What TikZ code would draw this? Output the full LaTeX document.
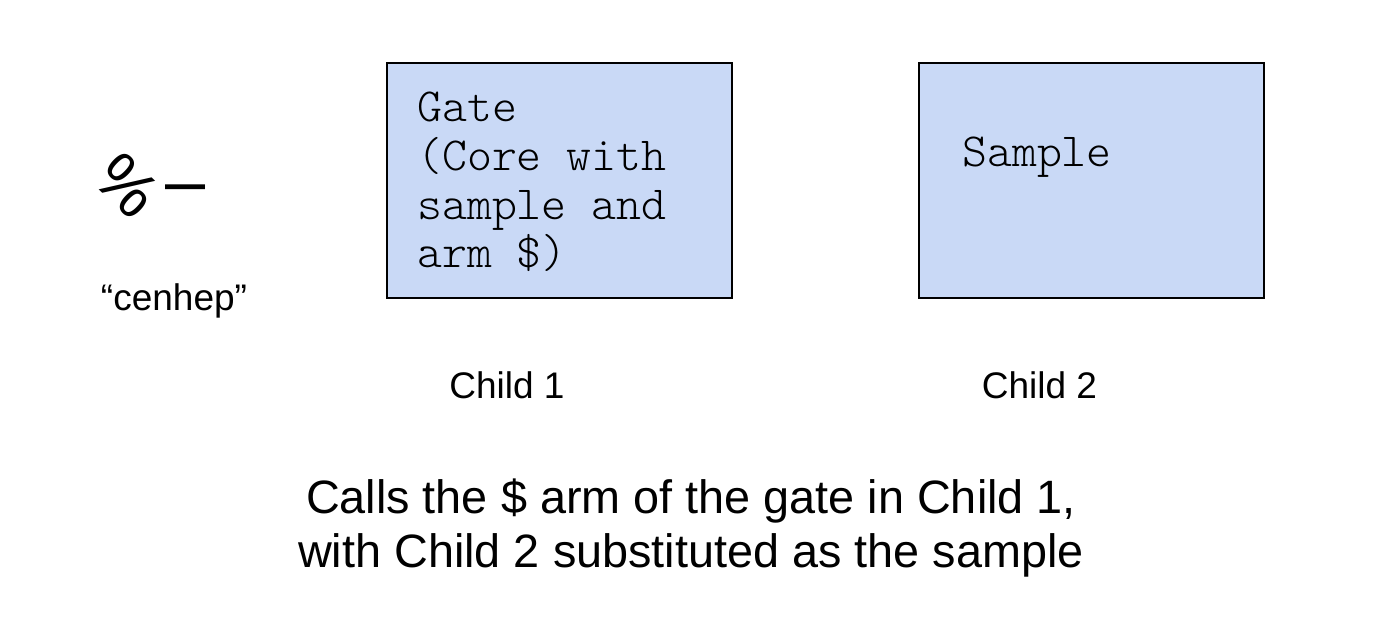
\documentclass[tikz,border=0pt]{standalone}
\usepackage{fontspec}
\setmainfont{Liberation Sans}
\newfontfamily\monofont{Latin Modern Mono Light}
\definecolor{boxfill}{HTML}{C9D9F6}
\begin{document}
\begin{tikzpicture}[x=1pt,y=-1pt,
  childbox/.style={draw=black,line width=1.5pt,fill=boxfill,minimum width=345pt,minimum height=235pt,inner sep=0pt},
  monotext/.style={font=\monofont\fontsize{47.5}{48.7}\selectfont,align=left,inner sep=0pt},
  labeltext/.style={font=\fontsize{37}{44}\selectfont,inner sep=0pt},
  bigtext/.style={font=\fontsize{46.8}{54}\selectfont,align=center,inner sep=0pt}]
\useasboundingbox (0,0) rectangle (1384,636);
\node[childbox] (box1) at (559.5,180.5) {};
\node[childbox] (box2) at (1091.5,180.5) {};
\node[monotext,anchor=base west] (gate) at (417,268) {Gate\\(Core with\\sample and\\arm \$)};
\node[monotext,anchor=base west] (sample) at (962,167) {Sample};
\node[labeltext,anchor=base] (child1) at (507,398) {Child 1};
\node[labeltext,anchor=base] (child2) at (1039.5,398) {Child 2};
\node[labeltext,anchor=base] (cenhep) at (174,310) {“cenhep”};
\node[font=\fontsize{66}{66}\selectfont,inner sep=0pt,rotate=-44] (pct) at (127,186) {\%};
\node[font=\fontsize{72}{72}\selectfont,inner sep=0pt,anchor=base west] (dash) at (165,206) {–};
\node[bigtext,anchor=base] (caption) at (691,567) {Calls the \$ arm of the gate in Child 1,\\with Child 2 substituted as the sample};
\end{tikzpicture}
\end{document}
